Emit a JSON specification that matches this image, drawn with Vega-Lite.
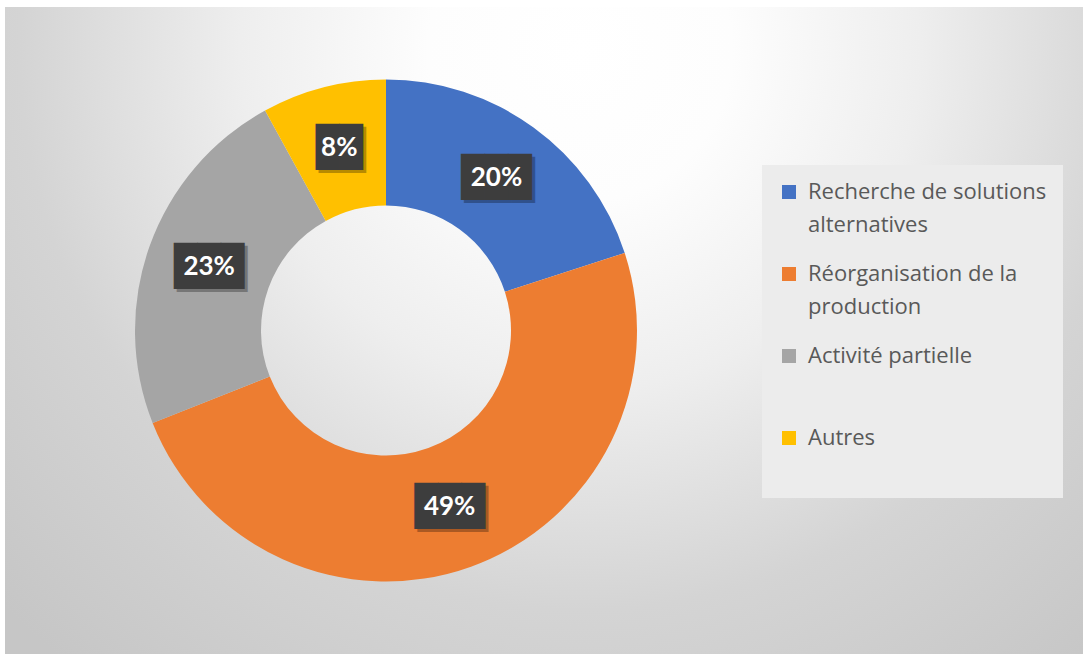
{
  "$schema": "https://vega.github.io/schema/vega-lite/v6.json",
  "padding": {"left": 5, "top": 7, "right": 0, "bottom": 0},
  "background": "#ffffff",
  "spacing": 0,
  "data": {
    "values": [
      {"categorie": "Recherche de solutions alternatives", "part": 0.20},
      {"categorie": "Réorganisation de la production", "part": 0.49},
      {"categorie": "Activité partielle", "part": 0.23},
      {"categorie": "Autres", "part": 0.08}
    ]
  },
  "hconcat": [
    {
      "width": 762,
      "height": 647,
      "transform": [
        {"window": [{"op": "row_number", "as": "rang"}]},
        {"calculate": "replace(format(datum.part, '.0%'), regexp('.', 'g'), '█')", "as": "boite"}
      ],
      "layer": [
        {
          "mark": {
            "type": "rect",
            "fill": {
              "gradient": "radial",
              "x1": 0.7546, "y1": 0.1319, "r1": 0,
              "x2": 0.7546, "y2": 0.1319, "r2": 1.05,
              "stops": [
                {"offset": 0, "color": "#ffffff"},
                {"offset": 0.19, "color": "#fdfdfd"},
                {"offset": 0.425, "color": "#eeeeee"},
                {"offset": 0.7, "color": "#d4d4d4"},
                {"offset": 1, "color": "#c6c6c6"}
              ]
            }
          },
          "encoding": {}
        },
        {
          "mark": {"type": "arc", "innerRadius": 125, "outerRadius": 251},
          "encoding": {
            "theta": {"field": "part", "type": "quantitative", "stack": true},
            "order": {"field": "rang", "type": "quantitative"},
            "color": {
              "field": "categorie",
              "type": "nominal",
              "scale": {
                "domain": ["Recherche de solutions alternatives", "Réorganisation de la production", "Activité partielle", "Autres"],
                "range": ["#4472C4", "#ED7D31", "#A5A5A5", "#FFC000"]
              },
              "legend": {
                "orient": "none",
                "legendX": 757,
                "legendY": 158,
                "title": null,
                "fillColor": "#ececec",
                "padding": 16,
                "symbolType": "square",
                "symbolSize": 196,
                "symbolStrokeWidth": 0,
                "labelFont": "Open Sans",
                "labelFontSize": 22,
                "labelColor": "#595959",
                "labelLimit": 400,
                "labelOffset": 8,
                "rowPadding": 27,
                "labelExpr": "datum.label == 'Recherche de solutions alternatives' ? ['Recherche de solutions', 'alternatives'] : datum.label == 'Réorganisation de la production' ? ['Réorganisation de la', 'production'] : [datum.label, '']",
                "encode": {"labels": {"update": {"lineHeight": {"value": 33}}}}
              }
            }
          }
        },
        {
          "mark": {"type": "text", "radius": 188, "font": "DejaVu Sans Mono", "fontSize": 39, "color": "#000000", "opacity": 0.28, "dx": 3, "dy": 3},
          "encoding": {
            "theta": {"field": "part", "type": "quantitative", "stack": true},
            "order": {"field": "rang", "type": "quantitative"},
            "text": {"field": "boite"}
          }
        },
        {
          "mark": {"type": "text", "radius": 188, "font": "DejaVu Sans Mono", "fontSize": 39, "color": "#3d3d3d"},
          "encoding": {
            "theta": {"field": "part", "type": "quantitative", "stack": true},
            "order": {"field": "rang", "type": "quantitative"},
            "text": {"field": "boite"}
          }
        },
        {
          "mark": {"type": "text", "radius": 188, "font": "Lato", "fontSize": 26, "fontWeight": "bold", "color": "#ffffff"},
          "encoding": {
            "theta": {"field": "part", "type": "quantitative", "stack": true},
            "order": {"field": "rang", "type": "quantitative"},
            "text": {"field": "part", "format": ".0%"}
          }
        }
      ]
    },
    {
      "width": 316,
      "height": 647,
      "mark": {
        "type": "rect",
        "fill": {
          "gradient": "radial",
          "x1": -0.0332, "y1": 0.0665, "r1": 0,
          "x2": -0.0332, "y2": 0.0665, "r2": 1.2365,
          "stops": [
            {"offset": 0, "color": "#ffffff"},
            {"offset": 0.19, "color": "#fdfdfd"},
            {"offset": 0.425, "color": "#eeeeee"},
            {"offset": 0.7, "color": "#d4d4d4"},
            {"offset": 1, "color": "#c6c6c6"}
          ]
        }
      },
      "encoding": {}
    }
  ],
  "config": {"view": {"stroke": null}}
}
